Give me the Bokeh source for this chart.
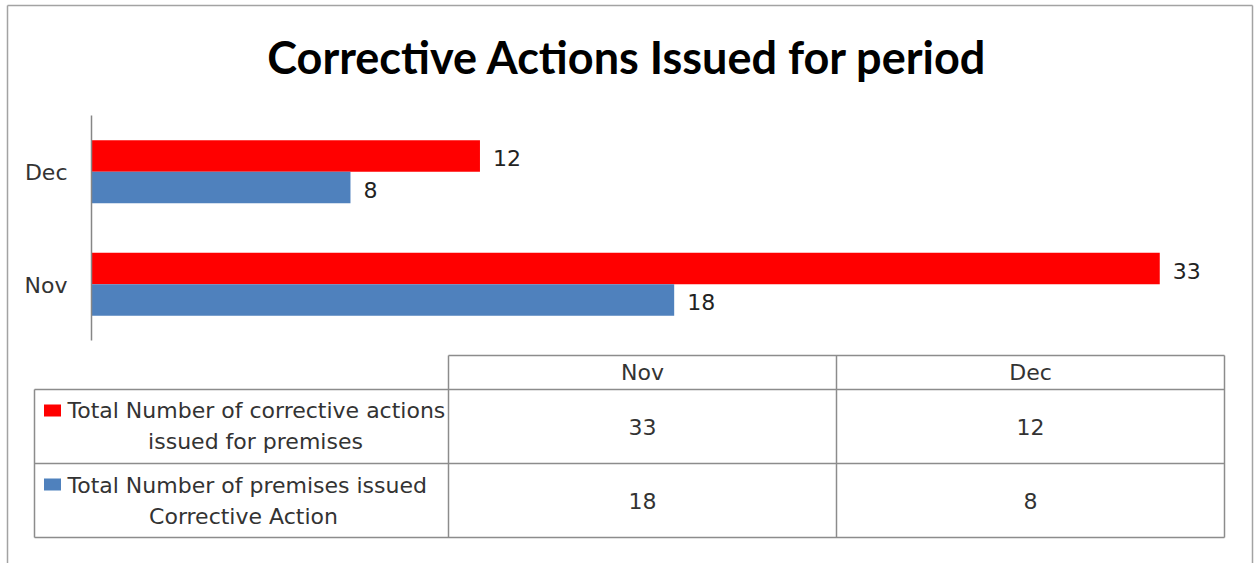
from bokeh.plotting import figure
from bokeh.models import ColumnDataSource, Range1d
from bokeh.core.properties import value
from bokeh.embed import file_html
from bokeh.resources import INLINE

# ---------------- data ----------------
title_text = "Corrective Actions Issued for period"
months = ["Nov", "Dec"]
corrective_actions = [33, 12]   # Total Number of corrective actions issued for premises
premises_issued = [18, 8]       # Total Number of premises issued Corrective Action
series_label_lines = [
    ["Total Number of corrective actions", "issued for premises"],
    ["Total Number of premises issued", "Corrective Action"],
]
series_colors = ["#FF0000", "#4F81BD"]
x_max = 35

# ---------------- layout constants (page pixels) ----------------
W, H = 1254, 563
PLOT_L, PLOT_R = 91, 1224          # value axis 0 .. x_max
PLOT_T, PLOT_B = 115, 340          # category band
SMALL_FONT = "DejaVu Sans"
SMALL_SIZE = "22px"
TEXT_COLOR = "#333333"
GRID_COLOR = "#8c8c8c"
BORDER_COLOR = "#a3a3a3"

# value scale: x_max units over the plot width
k = (PLOT_R - PLOT_L) / x_max
val_range = Range1d(-PLOT_L / k, (W - PLOT_L) / k)
# category scale: one unit per month, first month at the bottom
band = (PLOT_B - PLOT_T) / len(months)
cat_range = Range1d(-0.5 - (H - PLOT_B) / band, len(months) - 0.5 + PLOT_T / band)

month_pos = list(range(len(months)))
bar_h = 0.28

src = ColumnDataSource(dict(
    month=months,
    pos=month_pos,
    pos_top=[m + bar_h / 2 for m in month_pos],
    pos_bot=[m - bar_h / 2 for m in month_pos],
    actions=corrective_actions,
    premises=premises_issued,
    actions_lbl=[str(v) for v in corrective_actions],
    premises_lbl=[str(v) for v in premises_issued],
))

p = figure(width=W, height=H, x_range=Range1d(0, W), y_range=Range1d(H, 0),
           output_backend="svg", toolbar_location=None,
           x_axis_location=None, y_axis_location=None, min_border=0)
p.extra_x_ranges = {"val": val_range}
p.extra_y_ranges = {"cat": cat_range}
p.xgrid.visible = False
p.ygrid.visible = False
p.outline_line_color = None
p.background_fill_color = "white"
p.border_fill_color = "white"

# outer chart border (bottom edge lies below the visible window)
p.segment(x0=[7, 7, 1252], y0=[5, 5, 5], x1=[7, 1252, 1252], y1=[H + 5, 5, H + 5],
          line_color=BORDER_COLOR, line_width=1.5)

# title
p.text(x=[W / 2], y=[56], text=[title_text], text_align="center", text_baseline="middle",
       text_font=value("Lato"), text_font_style="bold", text_font_size="45px",
       text_color="#000000")

# ---------------- bars ----------------
p.hbar(y="pos_top", left=0, right="actions", height=bar_h, source=src,
       fill_color=series_colors[0], line_color=None,
       x_range_name="val", y_range_name="cat")
p.hbar(y="pos_bot", left=0, right="premises", height=bar_h, source=src,
       fill_color=series_colors[1], line_color=None,
       x_range_name="val", y_range_name="cat")

# data labels
p.text(x="actions", y="pos_top", text="actions_lbl", source=src, x_offset=13, y_offset=2,
       text_align="left", text_baseline="middle",
       text_font=value(SMALL_FONT), text_font_size=SMALL_SIZE, text_color="#222222",
       x_range_name="val", y_range_name="cat")
p.text(x="premises", y="pos_bot", text="premises_lbl", source=src, x_offset=13, y_offset=2,
       text_align="left", text_baseline="middle",
       text_font=value(SMALL_FONT), text_font_size=SMALL_SIZE, text_color="#222222",
       x_range_name="val", y_range_name="cat")

# category axis line and labels
p.segment(x0=[0], y0=[-0.5], x1=[0], y1=[len(months) - 0.5], line_color="#868686",
          line_width=1.5, x_range_name="val", y_range_name="cat")
p.text(x=PLOT_L - 24, y="pos", text="month", source=src, y_offset=1,
       text_align="right", text_baseline="middle",
       text_font=value(SMALL_FONT), text_font_size=SMALL_SIZE, text_color=TEXT_COLOR,
       y_range_name="cat")

# ---------------- data table ----------------
col_edges = [34, 448, 836, 1224]        # label column | Nov | Dec
row_edges = [355, 389, 463, 537]        # header | row 1 | row 2

x0s, y0s, x1s, y1s = [], [], [], []
x0s.append(col_edges[1]); x1s.append(col_edges[-1]); y0s.append(row_edges[0]); y1s.append(row_edges[0])
for ry in row_edges[1:]:
    x0s.append(col_edges[0]); x1s.append(col_edges[-1]); y0s.append(ry); y1s.append(ry)
x0s.append(col_edges[0]); x1s.append(col_edges[0]); y0s.append(row_edges[1]); y1s.append(row_edges[-1])
for cx in col_edges[1:]:
    x0s.append(cx); x1s.append(cx); y0s.append(row_edges[0]); y1s.append(row_edges[-1])
p.segment(x0=x0s, y0=y0s, x1=x1s, y1=y1s, line_color=GRID_COLOR, line_width=1.5)

col_centers = [(col_edges[i] + col_edges[i + 1]) / 2 for i in (1, 2)]
row_centers = [(row_edges[i] + row_edges[i + 1]) / 2 for i in (1, 2)]

# header months
p.text(x=col_centers, y=[(row_edges[0] + row_edges[1]) / 2] * len(months), text=months,
       text_align="center", text_baseline="middle",
       text_font=value(SMALL_FONT), text_font_size=SMALL_SIZE, text_color=TEXT_COLOR)

# values
series_values = [corrective_actions, premises_issued]
vx, vy, vt = [], [], []
for r, vals in enumerate(series_values):
    for c, v in enumerate(vals):
        vx.append(col_centers[c]); vy.append(row_centers[r]); vt.append(str(v))
p.text(x=vx, y=vy, text=vt, text_align="center", text_baseline="middle",
       text_font=value(SMALL_FONT), text_font_size=SMALL_SIZE, text_color=TEXT_COLOR)

# legend keys and series names
line1_mid = [410, 485]
line2_mid = [441, 516]
line2_center = [255, 243]
key_y = [410, 484]
p.rect(x=[52, 52], y=key_y, width=17, height=12, fill_color=series_colors, line_color=None)
p.text(x=[67, 67], y=line1_mid, text=[l[0] for l in series_label_lines],
       text_align="left", text_baseline="middle",
       text_font=value(SMALL_FONT), text_font_size=SMALL_SIZE, text_color=TEXT_COLOR)
p.text(x=line2_center, y=line2_mid, text=[l[1] for l in series_label_lines],
       text_align="center", text_baseline="middle",
       text_font=value(SMALL_FONT), text_font_size=SMALL_SIZE, text_color=TEXT_COLOR)

open("out.html", "w").write(file_html(p, INLINE))
